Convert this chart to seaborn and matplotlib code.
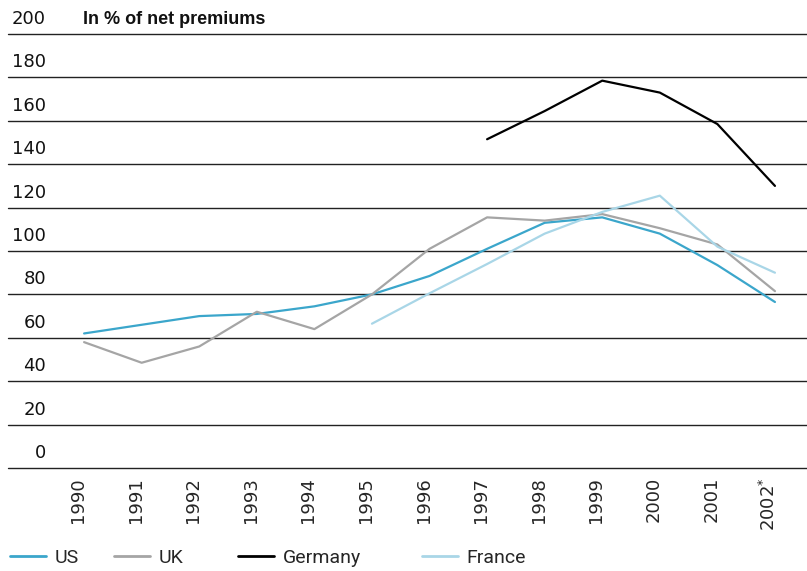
import numpy as np
import pandas as pd
import matplotlib
matplotlib.use("Agg")
import matplotlib.pyplot as plt
import matplotlib.transforms as mtransforms
from matplotlib.lines import Line2D
import seaborn as sns

years = list(range(1990, 2003))
year_labels = [str(y) for y in years[:-1]] + ["2002$^{*}$"]

us = [62, 66, 70, 71, 74.5, 80, 88.5, 101, 113, 115.5, 108, 93.5, 76.5]
uk = [58, 48.5, 56, 72, 64, 80, 101, 115.5, 114, 117, 110.5, 103, 81.5]
germany = [np.nan] * 7 + [151.5, 164.5, 178.5, 173, 158.5, 130]
france = [np.nan] * 5 + [66.5, 80.5, 94, 108, 118, 125.5, 102, 90]

countries = ["US", "UK", "Germany", "France"]
colors = {"US": "#3ba6cb", "UK": "#a5a5a5", "Germany": "#000000", "France": "#a9d6e7"}

df = pd.DataFrame({"Year": years, "US": us, "UK": uk, "Germany": germany, "France": france})
long_df = df.melt(id_vars="Year", var_name="Country", value_name="Value").dropna()

sns.set_style("white")
plt.rcParams["font.family"] = ["DejaVu Sans"]

W, H = 807, 571
fig = plt.figure(figsize=(W / 100, H / 100), dpi=100)
ax = fig.add_axes([8 / W, 1 - 468 / H, 1 - 8 / W, (468 - 34) / H])

sns.lineplot(data=long_df, x="Year", y="Value", hue="Country", hue_order=countries,
             palette=colors, linewidth=1.6, legend=False, ax=ax)

ax.set_ylim(0, 200)
ax.set_xlim(1990 - 76 / 57.5, 2002 + 32 / 57.5)
ax.set_yticks(range(0, 201, 20))
ax.set_yticklabels([])
ax.grid(axis="y", color="#222222", linewidth=1.0)
ax.set_axisbelow(True)
for gl in ax.get_ygridlines():
    gl.set_clip_on(False)
for s in ax.spines.values():
    s.set_visible(False)
ax.tick_params(axis="y", length=0)
ax.set_xlabel("")
ax.set_ylabel("")

ax.set_xticks(years)
ax.set_xticklabels(year_labels, rotation=90, fontsize=13, va="top")
ax.tick_params(axis="x", length=0, pad=6.5)
shift = mtransforms.ScaledTranslation(-6 / 100, 0, fig.dpi_scale_trans)
for lbl in ax.get_xticklabels():
    lbl.set_transform(lbl.get_transform() + shift)

# y labels sit above each grid line, right aligned
trans = mtransforms.blended_transform_factory(ax.transAxes, ax.transData)
px = 200 / (468 - 34)
for v in range(0, 201, 20):
    ax.text((46 - 8) / (W - 8), v + 10 * px, str(v), transform=trans, fontsize=13,
            ha="right", va="baseline", color="#111111")

ax.text((83 - 8) / (W - 8), 200 + 10 * px, "In % of net premiums", transform=trans,
        fontsize=13, fontweight="bold", family="Liberation Sans",
        ha="left", va="baseline", color="#111111")

# legend entries placed one by one, as in the original
starts = [10, 114, 238, 422]
for c, x0 in zip(countries, starts):
    fig.legend([Line2D([0], [0], color=colors[c], linewidth=2)], [c],
               loc="center left", bbox_to_anchor=(x0 / W, 1 - 558 / H),
               frameon=False, handlelength=1.85, handletextpad=0.45,
               borderpad=0, borderaxespad=0, prop={"family": "Roboto", "size": 14})

fig.savefig("out.png", dpi=100)
